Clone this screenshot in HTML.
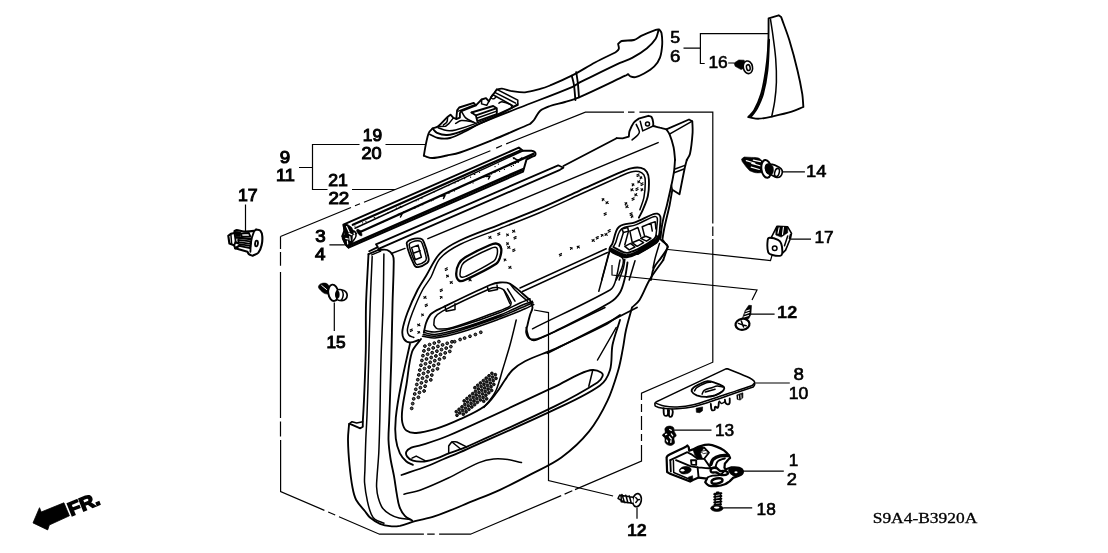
<!DOCTYPE html>
<html><head><meta charset="utf-8"><title>S9A4-B3920A</title>
<style>
html,body{margin:0;padding:0;background:#fff;}
svg{display:block;will-change:transform;opacity:0.999;}
.l{fill:none;stroke:#000;stroke-width:1.85;stroke-linecap:round;stroke-linejoin:round;}
.t{fill:none;stroke:#000;stroke-width:1.5;stroke-linecap:round;stroke-linejoin:round;}
.k{fill:none;stroke:#000;stroke-width:2.3;stroke-linecap:round;stroke-linejoin:round;}
.w{fill:#fff;stroke:#000;stroke-width:1.85;stroke-linejoin:round;}
.b{fill:#000;stroke:#000;stroke-width:0.6;stroke-linejoin:round;}
.n{font-family:"Liberation Sans",sans-serif;font-size:16.6px;fill:#000;stroke:#000;stroke-width:1.0;}
.s{font-family:"Liberation Serif",serif;font-size:15px;fill:#000;stroke:#000;stroke-width:0.3;}
.ld{fill:none;stroke:#000;stroke-width:1.2;stroke-linecap:butt;stroke-linejoin:miter;}
</style></head><body>
<svg width="1108" height="553" viewBox="0 0 1108 553">
<rect width="1108" height="553" fill="#fff"/>
<!--LABELS-->
<g class="n" id="labels">
<text transform="translate(362.8 140.5) scale(1.042 1)">19</text>
<text transform="translate(361.4 158.5) scale(1.092 1)">20</text>
<text transform="translate(279.8 162.6) scale(1.130 1)">9</text>
<text transform="translate(275.9 181.2) scale(1.095 1)">11</text>
<text transform="translate(328.2 185.5) scale(1.062 1)">21</text>
<text transform="translate(328.4 204.3) scale(1.130 1)">22</text>
<text transform="translate(238.0 201.3) scale(1.065 1)">17</text>
<text transform="translate(315.2 241.6) scale(1.130 1)">3</text>
<text transform="translate(314.9 259.5) scale(1.130 1)">4</text>
<text transform="translate(326.4 347.9) scale(1.040 1)">15</text>
<text transform="translate(670.2 42.5) scale(1.072 1)" stroke-width="0.6">5</text>
<text transform="translate(670.0 62.0) scale(1.126 1)" stroke-width="0.6">6</text>
<text transform="translate(708.4 67.9) scale(1.046 1)" stroke-width="0.6">16</text>
<text transform="translate(806.1 177.0) scale(1.108 1)" stroke-width="0.6">14</text>
<text transform="translate(814.4 242.8) scale(1.046 1)" stroke-width="0.6">17</text>
<text transform="translate(777.1 318.4) scale(1.093 1)" font-weight="bold" stroke-width="0.3">12</text>
<text transform="translate(793.5 379.6) scale(1.130 1)" stroke-width="0.6">8</text>
<text transform="translate(788.8 399.4) scale(1.061 1)" stroke-width="0.6">10</text>
<text transform="translate(715.0 435.8) scale(1.043 1)" stroke-width="0.6">13</text>
<text transform="translate(788.8 465.6) scale(1.030 1)" stroke-width="0.6">1</text>
<text transform="translate(786.8 485.4) scale(1.101 1)" stroke-width="0.6">2</text>
<text transform="translate(756.6 514.8) scale(1.043 1)" stroke-width="0.6">18</text>
<text transform="translate(626.9 535.5) scale(1.081 1)" font-weight="bold" stroke-width="0.3">12</text>
</g>
<g class="s"><text x="872.7" y="523.3" textLength="104.6" lengthAdjust="spacingAndGlyphs">S9A4-B3920A</text></g>
<g transform="translate(71 516.2) rotate(-22) scale(1.07 1)"><text x="0" y="0" font-family="Liberation Sans, sans-serif" font-weight="bold" font-size="19" stroke="#000" stroke-width="1.4" fill="#000">FR.</text></g>
<path d="M33 522.9L39.5 507.7L41.2 512L63.9 502.8L69.4 515.8L49.3 525L47.7 529.9Z" fill="#000" stroke="#000" stroke-width="0.8" stroke-linejoin="round"/>
<!--LEADERS-->
<g class="ld" id="leaders">
<path d="M299 167.5H312M359.5 144.5H312.5V189.5H327.5M385.5 144.5H426M352 189.5H395M245.5 204.5V231M329.4 244.8H344.9M334.3 302.6V331M683.5 48.2H700.4M768.6 33.6H700.4V63.5H704.7M728.2 63H734M782.6 171.8H804.9M791 239.1H811M751 314.2H774.6M668 249.5L770.5 260.5L773.1 251.8M612 265V275L757 290L752 300M755.4 383H789.8M673.5 430.2H711.5M742.2 471.2H783.8M723.2 507.8H752.2M637 507.4V518.7M534 310L548.5 312.6V480.6L613.1 496"/>
</g>

<!--PARTS-->
<!-- armrest 19/20 -->
<path class="w" d="M423.8 155.9C424.5 151.8 425.1 147.7 426 143.6C426.8 140 427.3 136.2 428.8 132.8C429.5 131.1 431.3 129.9 432.5 128.5C434.4 127.8 436.6 127.5 438.2 126.3C441.7 123.6 444.4 119.9 447.6 116.9C448.5 116.1 449.5 115.4 450.5 114.7L453.4 117.9L456.3 118.8L457.1 110.4L459.2 107.5L473.7 102.9L475.9 105.3L481.6 99.5L486 98.1L488.9 101.4L491 97.4L493.2 94.5L496.8 89.4C498.5 89.2 500.2 88.5 501.9 88.7C504.9 89 507.7 90.3 510.6 90.8C515.4 91.5 520.2 92.6 525 92.3C530.5 91.9 535.7 90.1 541 88.7C544.1 87.9 547.1 86.7 550 85.5C557.3 82.4 564.7 79.3 571.8 75.7C579.7 71.7 587.2 66.7 595 62.5C601.6 59 608.5 55.8 615.2 52.5C616.4 51.3 618.3 50.5 618.8 48.9C619.3 47.3 618.3 45.6 618.1 43.9C619.3 42.9 620.2 41.4 621.7 41C625.7 40 630 41 634 40C636.7 39.3 638.7 37.1 641.2 35.9C645.9 33.7 650.8 31.6 655.7 29.8C656.8 29.4 658.1 29.5 659.3 29.4C660 30.6 661.2 31.6 661.5 33C662.2 36.8 662.4 40.7 662.2 44.6C661.9 49 661.5 53.5 660 57.6C658.8 60.9 656.8 63.8 654.3 66.3C651.4 69.2 647.7 71.4 644.1 73.5C641.4 75 638.5 76.5 635.5 77.1C633.8 77.5 632 77 630.4 76.4C629.4 76 628.9 74.9 628.2 74.2C627.2 74.7 626.3 75.2 625.3 75.7C609.9 83 594.6 90.6 579 97.4C574.5 99.4 569.7 100.6 565 102C560 103.5 554.9 104.2 550 106C546.5 107.3 542.8 108.5 540 111C537.3 113.4 536.2 117.1 534 120C532.9 121.5 531.3 122.7 530 124C517.5 129.3 505.1 134.9 492.5 140C481.7 144.4 471 148.8 460 152.5C455.8 153.9 451.4 154.6 447 155.5C442.2 156.5 437.4 157.9 432.5 158C429.5 158.1 426.7 156.6 423.8 155.9Z"/>
<path class="l" d="M432.5 128.5C434 129.9 435.1 132 437 132.8C440.1 134.2 443.6 135.2 447 135C451.9 134.7 456.8 133 461.4 131.3C471.1 127.7 480.6 123.4 490 119C499.4 114.6 508.5 109.7 517.8 105"/>
<path class="l" d="M430 134.5C432.7 135.7 435.1 137.5 438 138C441.9 138.7 446.1 138.9 450 138C455.3 136.7 460.1 133.9 465 131.5C470.1 129 474.8 125.8 480 123.5C493.2 117.8 506.6 112.8 520 107.5C537.5 100.6 555.2 94.1 572.6 86.8C575.2 85.7 577.4 83.9 579.8 82.4C593.2 75.9 606.5 69.2 620 62.9C624.1 61 628.6 59.8 632.6 57.6C637.6 54.9 642.6 51.8 647 48.2C650.3 45.5 653.4 42.4 655.7 38.8C657.3 36.2 657.6 33 658.6 30.1"/>
<path class="l" d="M571.8 75.7C572.5 78.8 573.5 81.9 574 85.1C574.7 90 574.9 95 575.4 100"/>
<path class="l" d="M576.2 72.1C576.8 75.9 577.5 79.7 577.9 83.6C578.4 88.2 578.6 92.8 579 97.4"/>
<path class="t" d="M438.2 127.7C441.1 128.7 443.9 130.2 446.9 130.6C449.8 131 452.8 130.6 455.6 129.9C462.5 128.2 469.3 126 475.9 123.4C487.6 118.8 499.1 113.5 510.6 108.2C513.1 107 515.4 105.3 517.8 103.9"/>
<path class="t" d="M496.8 89.4L517.8 100.2L517.8 103.9"/>
<path class="t" d="M494.7 92.3L515.6 103.1"/>
<path class="t" d="M492.5 94.5L512.7 105.7"/>
<path class="t" d="M493.2 94.5C492.5 95.4 490.8 96.2 491 97.4C491.2 98.4 492.9 99 493.9 98.8C494.9 98.7 495.4 97.4 496.1 96.6"/>
<path class="l" d="M471.5 112.5L493.2 106L496.8 108.2L496.8 114L477.3 121.2L475.9 115.4L496.8 108.2"/>
<path class="l" d="M475.9 115.4L471.5 112.5"/>
<path class="t" d="M476.6 118.3L496.8 111.1"/>
<path class="l" d="M475.9 105.3L461.4 111.1L459.9 113.3L459.9 117.6L456.3 119.1"/>
<path class="t" d="M458.5 111.1L473.7 105.3"/>
<path class="t" d="M453.4 117.9L449.1 123.4L445.5 126.3L439.7 126.6"/>
<path class="t" d="M447.6 116.9C447.4 118.6 447.7 120.4 446.9 121.9C446.2 123.4 444.5 124.1 443.3 125.1"/>
<path class="t" d="M488.9 101.4L486.7 105.3L481.6 103.9L481.6 99.5"/>
<path class="t" d="M499 103.1C500 102.7 500.8 101.6 501.9 101.7C504.9 102.1 507.9 103.1 510.6 104.6C511.5 105.1 511.5 106.5 512 107.5"/>
<path class="t" d="M455.6 123.4C457.5 122.4 459.2 120.7 461.4 120.5C465.3 120.2 469.1 121.2 473 121.9C474 122.2 474.9 122.9 475.9 123.4"/>
<path class="t" d="M461.4 111.1C462.8 113.4 463.8 116.1 465.7 117.9C467.7 119.8 470.6 120.6 473 121.9"/>
<!-- phantom box -->
<path class="ld" d="M280.5 236.5L351 207.5M355 205.8L360 203.8M364 202.2L490.4 150.7M496.2 148.1L502 145.5M506.2 143.9L585.4 112.1H624M628 112.1H634.5M639.4 112.1H712.8V223.5M712.8 226.5V236M712.8 239V362.2L641.5 393.2V400M641.5 404V412M641.5 416V430M641.5 434V441M641.5 445V461L575 489.6M572.3 490.8L564.6 494.1M561.2 495.6L470.5 534.2H439.1M434.7 534.2H427.2M423.9 534.2H379.5L339 516.7M335.2 515.0L328.2 512.0M324.4 510.4L280.6 491.5V440M280.5 436.5V421.5M280.5 418V272M280.5 265.8V252M280.5 249V236.5"/>
<!-- weatherstrip 21/22 -->
<path class="w" d="M343.4 224.7L518.8 147.6L523 150.7L531.4 150.7C532.6 151.2 534.2 151.2 535 152.3C535.6 153.2 535.6 154.6 535 155.5C534.5 156.3 533.3 156.2 532.4 156.5L526.5 159.5L523 171.7L348.6 247.7L345.5 244.1L342.3 236.2L344.5 230.4L343.4 224.7Z" style="stroke-width:2"/>
<path class="k" d="M352.8 224.7L519.8 150.7M361.2 231.5L533.5 153.9"/>
<path class="t" d="M355 228.3L523 150.7M350.7 244.1L523 168.6M349.5 245.8L522.5 170.3"/>
<path class="t" d="M344.5 230.4C346.3 231.3 348 232.9 350 233C351.5 233.1 352.7 230.3 354 231C355.6 231.8 356.2 234.2 356 236C355.8 237.9 354.1 239.4 353 241C352.3 242.1 351.5 243.1 350.7 244.1"/>
<path class="t" d="M342.3 236.2C343.9 236.8 345.8 236.8 347 238C348.3 239.3 348.3 241.3 349 243"/>
<path class="t" d="M514 158C515.3 158.7 516.5 160 518 160C519.5 160 520.7 158.7 522 158"/>
<!-- stipple -->
<path d="M388.6 212.6h0.1M413.8 208.5h0.1M454.9 182.9h0.1M454.4 191.0h0.1M392.3 211.0h0.1M383.2 221.7h0.1M443.2 195.8h0.1M416.0 200.8h0.1M387.6 213.0h0.1M499.5 171.5h0.1M474.8 174.3h0.1M374.7 217.5h0.1M399.1 207.0h0.1M491.5 173.9h0.1M431.5 200.8h0.1M473.0 182.9h0.1M418.1 206.6h0.1M513.5 158.6h0.1M498.4 164.1h0.1M356.4 233.3h0.1M387.5 219.8h0.1M483.8 177.2h0.1M422.6 204.7h0.1M448.9 193.3h0.1M450.3 191.6h0.1M464.6 178.7h0.1M495.0 166.6h0.1M470.0 183.1h0.1M513.2 157.7h0.1M470.5 177.2h0.1M458.7 188.0h0.1M396.3 208.2h0.1M433.1 200.1h0.1M362.5 222.8h0.1M418.3 199.8h0.1M353.7 234.5h0.1M479.5 172.3h0.1M354.9 226.1h0.1M414.8 207.0h0.1M444.5 194.1h0.1M434.2 191.8h0.1M400.5 206.4h0.1M365.9 221.3h0.1M513.4 165.4h0.1M400.0 213.4h0.1M374.1 217.8h0.1M518.3 162.2h0.1M401.7 207.0h0.1M504.4 169.3h0.1M415.0 208.0h0.1M458.0 181.5h0.1M456.5 189.0h0.1M421.8 198.2h0.1M511.3 166.4h0.1M518.0 162.4h0.1M441.6 188.6h0.1M485.4 176.5h0.1M351.1 228.8h0.1M360.1 230.6h0.1M430.0 200.4h0.1M454.5 189.8h0.1M474.2 174.5h0.1M448.7 185.6h0.1M515.5 163.5h0.1M457.8 188.4h0.1M451.7 191.0h0.1M378.2 217.1h0.1M403.6 211.8h0.1M494.9 172.3h0.1M401.9 213.6h0.1" stroke="#000" stroke-width="1.2" stroke-linecap="round" fill="none"/>
<path class="t" d="M398 214.5L402 214L400.5 217M441 196L445 195.5L443.5 198.5M486 176.5L490 176L488.5 179"/>
<!-- end face -->
<path class="b" d="M343.3 224.8L346.6 223.7L351.6 227.3L353.8 231.6L352.4 236.7L352 243.9L348.7 248.3L345.8 246.1L342.2 238.9L342.6 235.6L344.8 234.5L343.7 229.5Z"/>
<path class="t" d="M346.6 226.6L349.1 232M349.1 233.4L351.8 234.7M345.8 238.3L348.2 239M347.4 241.2L347.7 243.9M349.8 236.7L350.2 240.3" style="stroke:#fff;stroke-width:1.2"/>
<path class="b" d="M356.7 229.8C357 228.8 359.2 229.7 359.9 230.5C361.2 231.9 362.4 233.9 361.9 235.6C361.6 236.6 359.6 235.3 358.9 234.5C357.7 233.2 356.2 231.5 356.7 229.8Z"/>
<!-- door lining panel -->
<path class="k" d="M369.2 251.2L377.8 247.1L376 244.3L558.2 165.3L563.4 167.7L560 169.8L378.5 248.8" style="stroke-width:1.8"/>
<path class="l" d="M563.4 166L616.6 138.2"/>
<path class="l" d="M616.6 138.2L622.6 138.4L628.8 136.6C629.1 134.7 629 132.7 629.6 130.9C630.7 128.1 631.9 125.2 633.7 122.8C635 121.1 637 120.1 638.6 118.7L648.4 115.8C649.4 116.2 650.9 116.1 651.6 117.1C652.7 118.7 652.9 120.8 653.2 122.8C653.4 123.9 653.2 125 653.2 126C655.4 126.6 657.6 127.1 659.8 127.7C661.9 128.2 664.1 128.8 666.3 129.3L689 119.5L692.3 121.2C692.4 125 692.9 128.8 692.6 132.6C692.1 139.6 691.5 146.8 690 153.7C689.5 156 687.8 157.9 686.7 160"/>
<path class="t" d="M636.2 124.4C637.2 126.9 639 129.1 639.4 131.7C639.6 132.9 638.6 134.1 637.8 135C636.1 136.9 634 138.2 632.1 139.9"/>
<path class="t" d="M640.2 121.2L642.7 130.9L653.2 126"/>
<circle class="t" cx="647.5" cy="124.1" r="2"/>
<path class="t" d="M669.5 134.2L692.3 121.2"/>
<path class="l" d="M666.3 129.3C667.3 130.9 668.8 132.4 669.5 134.2C671.2 138.4 672.6 142.8 673.6 147.2C674.5 151.5 674.6 155.9 675.1 160.2"/>
<path class="l" d="M675 160C674.7 163.6 674.6 167.3 674.1 170.8C673.4 175.7 672.4 180.5 671.4 185.3C670 192 668.4 198.6 666.9 205.2C665.4 211.2 663.5 217.2 662.4 223.3C661.4 228 661.1 232.9 660.5 237.7"/>
<path class="l" d="M686.8 160C686.1 162.4 685.5 164.8 684.9 167.2C683 176.2 681.3 185.3 679.5 194.3L672.3 189.8C671.4 194.9 670.6 200.1 669.6 205.2C667.9 213.1 665.8 220.8 664.2 228.7C663.4 232.3 663 235.9 662.4 239.5L667.8 246.8L663.3 259.9"/>
<path class="t" d="M672.3 189.8L671.4 185.3"/>
<path class="t" d="M675 169L684.9 165.4M674.1 172.7L684 169"/>
<path class="l" d="M663.3 260C658.7 266.7 653.6 273 649.5 280C645.7 286.4 643.5 293.7 639.5 300C637.6 303 634.5 305 632 307.5C630 315 627.7 322.4 626 330C624.6 336.1 624.1 342.3 622.9 348.4C621.5 355.6 620.4 362.9 618.3 370C615.2 380.4 612.2 390.9 607.5 400.7C602.4 411.5 596.6 422.1 589.1 431.4C581.1 441.3 571.6 450 561.4 457.5C552 464.4 541 469 530.7 474.4C520.6 479.7 510.4 485 500 489.8C491 494 481.7 497.5 472.5 501.2C460 506.3 447.7 511.8 435 516.2C428.5 518.5 421.6 519.4 415 521.2C410 522.6 405.1 524.7 400 525.8C396.7 526.4 393.3 526.6 390 526.2C386.6 525.9 383.1 525.1 380 523.8C376.4 522.2 373 520 370 517.5C368 515.8 366.6 513.3 365 511.2C362.1 507.5 358.5 504.2 356.2 500C354.2 496.2 353.3 491.8 352.5 487.5C351.1 480.1 350.2 472.5 349.5 465C348.7 456.7 348.1 448.3 348 440C347.9 434.6 348.7 429.3 349.1 423.9L350.5 424.2L360.3 428.3L362.8 426.8L362.8 421.7C363.2 414.5 363.7 407.2 364 400C364.7 383.3 365.4 366.7 365.8 350C366.1 335 365.6 320 366 305C366.5 288 367.7 271.1 368.5 254.1"/>
<path class="t" d="M349.1 423.9L352 421.7L356.7 423L362.8 421.7"/>
<path class="t" d="M392 253.2L405 248.4M427.9 238.6L658.1 142.6"/>
<path class="l" d="M368.5 254.1L378.2 250"/>
<path class="t" d="M371.7 254.9L380.7 251.1"/>
<path class="l" d="M406.7 243.5C406.5 241.4 409.6 240.1 411.6 239.4C414.4 238.4 417.6 238 420.6 238.6C422.1 238.9 423.3 240.4 423.8 241.9C426 247.4 427.8 253.1 428.7 258.9C428.9 260.4 428.2 262.1 427.1 263C424.5 265 421.4 266.7 418.1 267.1C416.6 267.3 414.7 266.1 414.1 264.6C410.8 257.9 407.5 250.9 406.7 243.5Z"/>
<path class="t" d="M409.2 245.1C409 243.6 411 242.4 412.4 241.9C414.7 241 417.3 240.6 419.8 241C420.9 241.2 421.8 242.4 422.2 243.5C424 248.2 425.5 253.1 426.3 258.1C426.4 259.3 425.9 260.7 425 261.4C423 263 420.6 264.3 418.1 264.6C417 264.8 415.7 263.8 415.2 262.7C412.6 257.1 410 251.3 409.2 245.1Z"/>
<path class="t" d="M411.6 247.6L418.1 245.1L421.4 257.3L415.2 259.8Z"/>
<path class="t" d="M413.2 253.2L420.1 250.8"/>
<path class="l" d="M418.8 340C415.8 340.8 413 342.8 410 342.5C407.6 342.3 405 340.8 403.8 338.8C402.2 336.2 402.1 332.9 402.5 330C403.4 324 405.4 318.2 407.5 312.5C410.4 304.8 413.8 297.3 417.5 290C420 285.1 423.1 280.7 426 276C430.6 268.5 433.9 259.8 440 253.4C445.5 247.7 452.8 243.9 459.9 240.5C472.8 234.3 486.4 229.9 499.7 224.6C513 219.3 526.4 214.3 539.5 208.7C552.9 203 566 196.8 579.2 190.8C592.5 184.8 605.7 178.7 619 172.9C622.9 171.2 626.8 169.3 631 168.3C634.2 167.6 637.7 167.2 640.9 167.9C643.2 168.4 645.6 169.9 646.9 171.9C648.4 174.2 648.8 177.1 648.9 179.8C649.1 185.1 649 190.6 647.9 195.8C646.9 200.6 644.8 205.1 642.9 209.7C641.8 212.4 640.2 215 638.9 217.6"/>
<path class="t" d="M413.8 337.5C412.1 336.7 409.8 336.5 408.8 335C407.5 333.3 407.2 330.8 407.5 328.8C408.4 323.2 410.5 317.8 412.5 312.5C415.5 304.8 418.7 297.3 422.5 290C424.9 285.4 428.5 281.5 431 277C434.3 271 435.4 263.5 440 258.4C445.4 252.4 452.7 248.1 459.9 244.5C472.7 238.1 486.4 233.9 499.7 228.6C513 223.3 526.4 218.3 539.5 212.7C552.9 207 566 200.8 579.2 194.8C592.5 188.8 605.7 182.8 619 176.9C623 175.1 626.8 173 631 171.9C633.5 171.2 636.3 170.9 638.9 171.5C640.9 172 642.8 173.2 643.9 174.9C645.1 176.9 645.3 179.5 645.3 181.8C645.3 187.1 644.9 192.5 643.9 197.7C643.1 201.8 641.2 205.7 639.9 209.7"/>
<path class="k" d="M456.2 273.8C456.2 270.3 457.1 266.8 458.8 263.8C460.1 261.2 462.5 259 465 257.5C473 252.7 481.4 248.6 490 245C492.3 244 495.1 242.9 497.5 243.8C499.5 244.4 500.9 246.7 501.2 248.8C501.8 251.6 500.9 254.7 500 257.5C499.2 259.8 498.3 262.4 496.2 263.8C486.4 270.1 475.7 275.2 465 280C463.1 280.9 460.5 281.7 458.8 280.5C456.8 279.1 456.2 276.1 456.2 273.8Z"/>
<path class="t" d="M460 273.8C460.2 270.8 460.6 267.6 462 265C463.2 262.8 465.4 261.2 467.5 260C474.8 255.8 482.3 252.1 490 248.8C491.9 247.9 494.2 246.8 496.2 247.5C497.5 247.9 497.5 249.9 497.5 251.2C497.5 253.4 497 255.5 496.2 257.5C495.7 258.9 495 260.5 493.8 261.2C484.9 266.8 475.6 271.7 466.2 276.2C464.7 277 462.8 277.6 461.2 277C460.2 276.6 459.9 274.9 460 273.8Z"/>
<path class="l" d="M423.8 332.5C424.6 329.2 425 325.7 426.2 322.5C427.5 319.4 428.8 316 431.2 313.8C434.4 310.8 438.6 309.4 442.5 307.5C458.2 299.8 473.9 292 490 285C493.2 283.6 496.6 282.7 500 282.5C503.4 282.3 507.1 282.1 510 283.8C517.4 288.1 523.3 294.6 530 300C530.8 302.5 532.5 304.9 532.5 307.5C532.5 310.1 530.7 312.5 530 315C529.1 318.3 528.2 321.6 527.5 325C527 327.5 525.8 330 526.2 332.5C526.7 334.9 527.9 337.6 530 338.8C532.2 340 535.1 339.4 537.5 338.8C542.7 337.3 547.7 334.9 552.5 332.5C571.8 322.8 591.4 313.5 610 302.5C614.1 300.1 617.6 296.5 620 292.5C622.7 288 623.7 282.6 625 277.5C626.2 272.6 626.7 267.5 627.5 262.5"/>
<path class="t" d="M433.8 325C434.2 322.5 433.6 319.6 435 317.5C436.7 314.8 439.6 312.8 442.5 311.2C458 303.1 474 295.8 490 288.8C491.9 287.9 494.1 287.3 496.2 287.5C498.9 287.7 501.9 288.1 503.8 290C507.2 293.4 508.8 298.3 511.2 302.5C510.8 303.8 511.1 305.6 510 306.2C505.4 309.1 500.1 310.6 495 312.5C480.9 317.7 467 323.4 452.5 327.5C447.7 328.9 442.5 329.4 437.5 328.8C435.7 328.5 435 326.2 433.8 325Z"/>
<path class="t" d="M445 306.2L446.2 311.2L455 309.5L455 303.8"/>
<path class="t" d="M487.5 287.5L488.8 291.2L497.5 289.5L497 285"/>
<path class="t" d="M503.8 290L510 303.8M507.5 288.8L515 301.2"/>
<path class="t" d="M423.8 332.5C427.5 333.2 431.2 334.9 435 334.5C443.5 333.6 451.8 331.2 460 328.8C473.5 324.7 486.8 320 500 315C507.7 312.1 514.9 308.2 522.5 305C525.8 303.6 529.2 302.5 532.5 301.2M422.5 336.2C426.7 336.8 430.8 338.4 435 338C443.5 337.2 451.8 334.9 460 332.5C473.5 328.5 486.8 323.6 500 318.8C508.4 315.7 516.7 312.2 525 308.8C528 307.5 530.8 305.9 533.8 304.5M424.5 330.5C428 331 431.5 332.4 435 332C443.5 331 451.8 328.7 460 326.2C473.5 322.2 486.9 317.6 500 312.5C506.9 309.8 513.3 306.1 520 303C523.3 301.5 526.7 300.2 530 298.8M423.2 334.5C427.2 335.1 431.1 336.7 435 336.2C443.5 335.3 451.8 333 460 330.5C473.5 326.4 486.8 321.7 500 316.8C508 313.8 515.8 310.1 523.8 306.8C526.8 305.4 529.9 304.1 533 302.8"/>
<path class="t" d="M510 283.8C511.7 285.8 513.1 288.1 515 290C519 294 523.3 297.5 527.5 301.2"/>
<path class="t" d="M520 288L606.2 248.8M522.5 291.5L607.5 252.5"/>
<path class="t" d="M532.5 328.8C558.3 315.8 584.8 304.1 610 290C612.6 288.5 614 285.4 615 282.5C617.4 275.2 618.3 267.5 620 260"/>
<path class="t" d="M598.8 291.2L610 250"/>
<path class="l" d="M547.5 353.2L637 307.5"/>
<path class="l" d="M609.6 249.9C608.3 248 611.8 245.6 612.5 243.4C613.9 239.4 614.6 235.1 616.2 231.1C616.8 229.5 617.8 227.9 619.1 226.8C620.3 225.7 621.8 225 623.4 224.6C627.2 223.6 631.3 223.7 635 222.4C641 220.3 646.4 216.8 652.3 214.5C653.9 213.8 655.7 213.3 657.4 213.7C658.7 214.1 659.9 215.3 660.3 216.6C660.9 218.7 660.4 221 660.3 223.1C659.9 228 659.7 232.8 658.8 237.6C658.5 239.2 657.9 241 656.7 241.9C650.8 246.4 644.4 250.1 637.9 253.5C634.7 255.2 631.3 256.5 627.7 257.1C625.8 257.5 623.7 257.1 621.9 256.4C617.6 254.7 612.4 253.7 609.6 249.9Z"/>
<path class="t" d="M613.6 246.6C614.3 245 615.3 243.6 615.9 241.9C617 239 617.5 235.9 618.8 233C619.3 231.6 620.2 230.4 621.2 229.4C622.2 228.4 623.5 227.6 624.8 227.2C628.4 226.1 632.2 226.2 635.7 224.9C641.4 222.8 646.6 219.4 652.3 217.1C653.4 216.6 654.8 216.2 655.9 216.6C656.8 216.9 657.3 217.9 657.4 218.8C657.6 221.2 657.1 223.6 656.9 226C656.7 229.4 656.3 232.8 655.9 236.2"/>
<path class="t" d="M621.9 228.9L627.7 227.5L628.5 231.1L623.4 232.5Z"/>
<path class="t" d="M623.4 232.5L619.1 246.3M628.5 231.1L624.8 244.8M629.9 231.1L637.9 227.5L640.7 236.2M629.9 231.1L632.1 241.9M642.2 226.8L650.9 223.1L652.3 231.1M642.2 226.8L644.4 235.4M650.9 223.1L655.2 221.7L655.9 228.9"/>
<path class="l" d="M611.1 248.5C615 250.4 618.7 252.7 622.7 254.2C624.3 254.9 626.1 255.3 627.7 255C631.2 254.3 634.7 253 637.9 251.3C643.9 248.2 649.8 244.6 655.2 240.5C656.6 239.5 657.1 237.6 658.1 236.2M613.3 247C616.6 248.7 619.9 250.7 623.4 252.1C624.8 252.6 626.3 253.1 627.7 252.8C631.2 252.1 634.7 250.8 637.9 249.2C643.4 246.3 648.8 243.1 653.8 239.3C655 238.4 655.5 236.7 656.4 235.4M610.4 249.5C614.3 251.4 618.1 253.8 622.2 255.4C624 256.1 625.9 256.5 627.7 256.1C631.3 255.5 634.7 254.2 637.9 252.5C644.1 249.2 650.3 245.6 655.9 241.4C657.3 240.4 657.7 238.5 658.5 237"/>
<path class="t" d="M612.1 250.9L622.2 257.6"/>
<path class="t" d="M624.8 246.3L630.6 243.4L635 247L629.2 249.9Z"/>
<path class="t" d="M632.1 242.7L639.3 239.8L643.6 242.7L637.1 246.3Z"/>
<path class="t" d="M640.7 238.3L645.8 236.2L650.9 238.3L646.5 241.2Z"/>
<path class="k" d="M637.9 253.8C644.1 249.9 650.7 246.6 656.7 242.2C658 241.2 658.4 239.3 659.3 237.9"/>
<path class="l" d="M660.3 231.8C659.9 233.7 658.7 235.7 659.3 237.6C659.8 239.5 661.9 240.5 663.2 241.9C664.6 243.1 666.7 243.9 667.5 245.6C668.1 246.7 667.4 248.1 666.8 249.2C665.2 252.2 663 255 661 257.9C658.6 261.3 655.5 264.2 653.8 268C652.1 271.7 651.8 276 650.9 280"/>
<path class="t" d="M659.5 243.4C658.1 248.2 656.5 253 655.2 257.9C654.3 261.2 653.8 264.6 653 268"/>
<path class="t" d="M609.6 249.9L601.7 280"/>
<path class="t" d="M621.9 256.4C622.4 257.9 623.4 259.2 623.4 260.7C623.4 263.2 622.8 265.7 621.9 268C620.4 272.1 618.1 276 616.2 280"/>
<path class="t" d="M624.8 259.3C624.4 262.2 624.2 265.2 623.4 268C622.2 272.1 620.5 276 619.1 280"/>
<path class="t" d="M635 260.7L629.2 280"/>
<path class="t" d="M516.2 320C514.2 328.3 512.3 336.7 510 345C507.7 353.4 505 361.7 502.5 370C500.5 376.7 498.9 383.6 496.2 390C494.7 393.6 492.3 396.8 490 400C488.1 402.6 485.8 405 483.8 407.5"/>
<path class="t" d="M526.2 327.5C527.5 331.2 527.3 335.9 530 338.8C531.7 340.6 535.2 340.5 537.5 339.5C560.5 329.9 582.5 318.2 605 307.5"/>
<path class="t" d="M616.2 327.5L597.5 360"/>
<path class="t" d="M588.8 386.2L592.5 371.2"/>
<path class="l" d="M410 343.8C407 357.5 403.7 371.2 401 385C398.9 395.8 396.9 406.6 395.8 417.6C395.1 424.6 395 431.7 395.8 438.7C396.4 443.8 397.8 448.8 399.9 453.4C401.4 456.5 403.8 459.2 406.4 461.5C408.2 463.1 410.7 463.7 412.9 464.8"/>
<path class="l" d="M421 339C418 343.3 413.6 347 412 352C408.6 362.6 408.3 374 406.4 385C405 393.1 403.2 401.2 402.3 409.4C401.8 413.7 401.5 418.1 402.3 422.4C402.9 425.4 404 428.7 406.4 430.6C409.1 432.6 412.8 433.2 416.2 433C422.8 432.6 429.4 430.9 435.7 428.9C444 426.3 452.2 422.9 460.1 419.2C468.5 415.3 477.1 411.7 484.5 406.2C489.6 402.5 493.1 397 497 392C500 388.2 502.2 383.9 505 380C507.4 376.6 509.5 372.8 512.5 370C516.2 366.5 520.5 363.5 525 361.2C534.7 356.4 545.1 353.2 555 348.8C571.8 341.1 588.6 333.5 605 325C610.3 322.2 615 318.3 620 315"/>
<path class="l" d="M406.4 451.7C407.3 449.8 409.4 448.6 411.3 447.7C414.4 446.3 417.8 446.2 421 445.2C430.3 442.2 439.7 439.4 448.7 435.5C484.4 419.9 519.7 403.2 555 386.6C563.5 382.6 571.4 377.5 580 373.8C584 372 588.2 370.3 592.5 370C595.5 369.8 598.7 370.9 601.2 372.5C602.4 373.2 603 375 602.5 376.2C601.6 378.7 599.8 381.1 597.5 382.5C583.8 391.2 569.6 399 555 406.2C525.9 420.5 496.2 433.6 466.6 446.8C460.8 449.4 454.6 451.1 448.7 453.4C444.9 454.9 441.2 456.9 437.3 458.2C433.1 459.6 428.7 461 424.3 461.5C420.5 461.9 416.6 461.7 412.9 460.7C410.7 460.1 408.6 458.5 407.2 456.6C406.2 455.3 405.7 453.2 406.4 451.7Z"/>
<path class="l" d="M401.5 475C410.2 472 418.9 469.2 427.5 466C433 463.9 438.4 461.3 443.8 459C451.4 455.8 459.1 452.7 466.6 449.3C496.1 436.1 525.8 423.3 555 409.4C570.3 402.1 586.2 395.4 600 385.5C605 381.9 608.2 375.9 610 370C612.5 362 610.9 353.2 612.5 345C614.2 336.5 617.5 328.3 620 320"/>
<path class="t" d="M448.7 453.4L448.7 446C449.8 444.7 450.5 442.8 452 442C453.4 441.3 455.2 442 456.8 442L466.6 446.8"/>
<path class="t" d="M452 442L460 448.5"/>
<path class="t" d="M412 458.2L416.2 456.1L425 460.7"/>
<path class="t" d="M404 494.2C409.7 492.7 415.6 491.7 421.2 489.7C430.4 486.3 439.4 482.2 448.3 478C458.7 473.1 468.4 467 479 462.6C483.6 460.7 488.5 459.5 493.5 459C498.3 458.5 503.2 458.9 508 459.5C512.6 460.1 517 461.6 521.5 462.6"/>
<path class="t" d="M372.2 256.5C371.5 272.7 370.7 288.8 370.2 305C369.6 323.3 369.2 341.7 368.7 360C368.2 378.3 367.7 396.7 367 415C366.7 423.3 366.1 431.7 365.8 440C365.4 450 365.2 460 364.9 470C364.8 474.3 364.2 478.7 364.6 483C365.1 489.3 366.2 495.5 367.5 501.6C368.4 505.9 369.6 510.2 371.3 514.3C372.1 516.2 373.3 518.2 375 519.4C377.7 521.3 381 521.9 384 523.2"/>
<path class="t" d="M383.9 254C383.6 271 383.6 288 383.1 305C382.6 323.3 381.5 341.7 381 360C380.4 380 380.3 400 379.8 420C379.5 430.8 379.3 441.7 378.8 452.5C378.4 460.8 377.5 469.2 377 477.5C376.8 480.7 376.4 483.8 376.6 487C376.8 490.5 377.2 494.1 378.2 497.5C379.2 501.1 380.3 504.9 382.5 508C384.4 510.7 387.2 512.6 390 514.3C392.8 516 395.9 517.2 399 518C402.6 518.9 406.3 519 410 519.5"/>
<path class="l" d="M378.2 250C381.2 250 384.4 248.9 387.2 250C389.7 251 391.8 253.3 392.9 255.7C394.1 258.2 393.7 261.1 393.7 263.8C393.6 277.5 392.8 291.3 392.5 305C392 323.3 391.8 341.7 391.3 360C390.7 380 389.9 400 389.2 420C389 426.7 388.3 433.3 388.5 440C388.7 446 389.5 452 390.4 458C391.3 464.1 392.9 470.1 394 476.2C395.1 482.2 395.7 488.2 396.8 494.2C397.6 498.5 398 502.8 399.5 506.9C400.7 510.2 402.5 513.3 404.9 515.9C406.8 518 409.7 519 412.1 520.5"/>
<!-- speaker dots -->
<path d="M411.7 408.4m-1.4 0a1.4 1.4 0 1 0 2.8 0a1.4 1.4 0 1 0 -2.8 0M412.7 403.6m-1.4 0a1.4 1.4 0 1 0 2.8 0a1.4 1.4 0 1 0 -2.8 0M413.7 398.8m-1.4 0a1.4 1.4 0 1 0 2.8 0a1.4 1.4 0 1 0 -2.8 0M414.7 394.0m-1.4 0a1.4 1.4 0 1 0 2.8 0a1.4 1.4 0 1 0 -2.8 0M418.4 397.3m-1.4 0a1.4 1.4 0 1 0 2.8 0a1.4 1.4 0 1 0 -2.8 0M415.8 389.3m-1.4 0a1.4 1.4 0 1 0 2.8 0a1.4 1.4 0 1 0 -2.8 0M419.4 392.5m-1.4 0a1.4 1.4 0 1 0 2.8 0a1.4 1.4 0 1 0 -2.8 0M416.8 384.5m-1.4 0a1.4 1.4 0 1 0 2.8 0a1.4 1.4 0 1 0 -2.8 0M420.4 387.7m-1.4 0a1.4 1.4 0 1 0 2.8 0a1.4 1.4 0 1 0 -2.8 0M424.1 391.0m-1.4 0a1.4 1.4 0 1 0 2.8 0a1.4 1.4 0 1 0 -2.8 0M417.8 379.7m-1.4 0a1.4 1.4 0 1 0 2.8 0a1.4 1.4 0 1 0 -2.8 0M421.4 382.9m-1.4 0a1.4 1.4 0 1 0 2.8 0a1.4 1.4 0 1 0 -2.8 0M425.1 386.2m-1.4 0a1.4 1.4 0 1 0 2.8 0a1.4 1.4 0 1 0 -2.8 0M418.8 374.9m-1.4 0a1.4 1.4 0 1 0 2.8 0a1.4 1.4 0 1 0 -2.8 0M422.5 378.2m-1.4 0a1.4 1.4 0 1 0 2.8 0a1.4 1.4 0 1 0 -2.8 0M426.1 381.4m-1.4 0a1.4 1.4 0 1 0 2.8 0a1.4 1.4 0 1 0 -2.8 0M419.8 370.1m-1.4 0a1.4 1.4 0 1 0 2.8 0a1.4 1.4 0 1 0 -2.8 0M423.5 373.4m-1.4 0a1.4 1.4 0 1 0 2.8 0a1.4 1.4 0 1 0 -2.8 0M427.1 376.6m-1.4 0a1.4 1.4 0 1 0 2.8 0a1.4 1.4 0 1 0 -2.8 0M430.8 379.9m-1.4 0a1.4 1.4 0 1 0 2.8 0a1.4 1.4 0 1 0 -2.8 0M420.9 365.3m-1.4 0a1.4 1.4 0 1 0 2.8 0a1.4 1.4 0 1 0 -2.8 0M424.5 368.6m-1.4 0a1.4 1.4 0 1 0 2.8 0a1.4 1.4 0 1 0 -2.8 0M428.1 371.8m-1.4 0a1.4 1.4 0 1 0 2.8 0a1.4 1.4 0 1 0 -2.8 0M431.8 375.1m-1.4 0a1.4 1.4 0 1 0 2.8 0a1.4 1.4 0 1 0 -2.8 0M421.9 360.5m-1.4 0a1.4 1.4 0 1 0 2.8 0a1.4 1.4 0 1 0 -2.8 0M425.5 363.8m-1.4 0a1.4 1.4 0 1 0 2.8 0a1.4 1.4 0 1 0 -2.8 0M429.2 367.1m-1.4 0a1.4 1.4 0 1 0 2.8 0a1.4 1.4 0 1 0 -2.8 0M432.8 370.3m-1.4 0a1.4 1.4 0 1 0 2.8 0a1.4 1.4 0 1 0 -2.8 0M422.9 355.7m-1.4 0a1.4 1.4 0 1 0 2.8 0a1.4 1.4 0 1 0 -2.8 0M426.5 359.0m-1.4 0a1.4 1.4 0 1 0 2.8 0a1.4 1.4 0 1 0 -2.8 0M430.2 362.3m-1.4 0a1.4 1.4 0 1 0 2.8 0a1.4 1.4 0 1 0 -2.8 0M433.8 365.5m-1.4 0a1.4 1.4 0 1 0 2.8 0a1.4 1.4 0 1 0 -2.8 0M437.5 368.8m-1.4 0a1.4 1.4 0 1 0 2.8 0a1.4 1.4 0 1 0 -2.8 0M423.9 350.9m-1.4 0a1.4 1.4 0 1 0 2.8 0a1.4 1.4 0 1 0 -2.8 0M427.6 354.2m-1.4 0a1.4 1.4 0 1 0 2.8 0a1.4 1.4 0 1 0 -2.8 0M431.2 357.5m-1.4 0a1.4 1.4 0 1 0 2.8 0a1.4 1.4 0 1 0 -2.8 0M434.8 360.7m-1.4 0a1.4 1.4 0 1 0 2.8 0a1.4 1.4 0 1 0 -2.8 0M438.5 364.0m-1.4 0a1.4 1.4 0 1 0 2.8 0a1.4 1.4 0 1 0 -2.8 0M424.9 346.1m-1.4 0a1.4 1.4 0 1 0 2.8 0a1.4 1.4 0 1 0 -2.8 0M428.6 349.4m-1.4 0a1.4 1.4 0 1 0 2.8 0a1.4 1.4 0 1 0 -2.8 0M432.2 352.7m-1.4 0a1.4 1.4 0 1 0 2.8 0a1.4 1.4 0 1 0 -2.8 0M435.9 356.0m-1.4 0a1.4 1.4 0 1 0 2.8 0a1.4 1.4 0 1 0 -2.8 0M439.5 359.2m-1.4 0a1.4 1.4 0 1 0 2.8 0a1.4 1.4 0 1 0 -2.8 0M429.6 344.6m-1.4 0a1.4 1.4 0 1 0 2.8 0a1.4 1.4 0 1 0 -2.8 0M433.2 347.9m-1.4 0a1.4 1.4 0 1 0 2.8 0a1.4 1.4 0 1 0 -2.8 0M436.9 351.2m-1.4 0a1.4 1.4 0 1 0 2.8 0a1.4 1.4 0 1 0 -2.8 0M440.5 354.4m-1.4 0a1.4 1.4 0 1 0 2.8 0a1.4 1.4 0 1 0 -2.8 0M444.2 357.7m-1.4 0a1.4 1.4 0 1 0 2.8 0a1.4 1.4 0 1 0 -2.8 0M434.3 343.1m-1.4 0a1.4 1.4 0 1 0 2.8 0a1.4 1.4 0 1 0 -2.8 0M437.9 346.4m-1.4 0a1.4 1.4 0 1 0 2.8 0a1.4 1.4 0 1 0 -2.8 0M441.5 349.6m-1.4 0a1.4 1.4 0 1 0 2.8 0a1.4 1.4 0 1 0 -2.8 0M445.2 352.9m-1.4 0a1.4 1.4 0 1 0 2.8 0a1.4 1.4 0 1 0 -2.8 0M438.9 341.6m-1.4 0a1.4 1.4 0 1 0 2.8 0a1.4 1.4 0 1 0 -2.8 0M442.6 344.9m-1.4 0a1.4 1.4 0 1 0 2.8 0a1.4 1.4 0 1 0 -2.8 0M446.2 348.1m-1.4 0a1.4 1.4 0 1 0 2.8 0a1.4 1.4 0 1 0 -2.8 0M449.8 351.4m-1.4 0a1.4 1.4 0 1 0 2.8 0a1.4 1.4 0 1 0 -2.8 0M447.2 343.3m-1.4 0a1.4 1.4 0 1 0 2.8 0a1.4 1.4 0 1 0 -2.8 0M450.9 346.6m-1.4 0a1.4 1.4 0 1 0 2.8 0a1.4 1.4 0 1 0 -2.8 0M451.9 341.8m-1.4 0a1.4 1.4 0 1 0 2.8 0a1.4 1.4 0 1 0 -2.8 0M454.6 341.7m-1.4 0a1.4 1.4 0 1 0 2.8 0a1.4 1.4 0 1 0 -2.8 0M460.1 339.5m-1.4 0a1.4 1.4 0 1 0 2.8 0a1.4 1.4 0 1 0 -2.8 0M464.6 338.1m-1.4 0a1.4 1.4 0 1 0 2.8 0a1.4 1.4 0 1 0 -2.8 0M470.0 336.3m-1.4 0a1.4 1.4 0 1 0 2.8 0a1.4 1.4 0 1 0 -2.8 0M475.4 334.5m-1.4 0a1.4 1.4 0 1 0 2.8 0a1.4 1.4 0 1 0 -2.8 0M480.8 332.3m-1.4 0a1.4 1.4 0 1 0 2.8 0a1.4 1.4 0 1 0 -2.8 0" fill="#555" stroke="#000" stroke-width="1"/>
<path d="M457.0 415.3m-1.4 0a1.4 1.4 0 1 0 2.8 0a1.4 1.4 0 1 0 -2.8 0M456.3 411.7m-1.4 0a1.4 1.4 0 1 0 2.8 0a1.4 1.4 0 1 0 -2.8 0M459.8 412.9m-1.4 0a1.4 1.4 0 1 0 2.8 0a1.4 1.4 0 1 0 -2.8 0M463.3 414.2m-1.4 0a1.4 1.4 0 1 0 2.8 0a1.4 1.4 0 1 0 -2.8 0M459.1 409.3m-1.4 0a1.4 1.4 0 1 0 2.8 0a1.4 1.4 0 1 0 -2.8 0M462.6 410.5m-1.4 0a1.4 1.4 0 1 0 2.8 0a1.4 1.4 0 1 0 -2.8 0M466.1 411.8m-1.4 0a1.4 1.4 0 1 0 2.8 0a1.4 1.4 0 1 0 -2.8 0M462.0 406.9m-1.4 0a1.4 1.4 0 1 0 2.8 0a1.4 1.4 0 1 0 -2.8 0M465.5 408.2m-1.4 0a1.4 1.4 0 1 0 2.8 0a1.4 1.4 0 1 0 -2.8 0M468.9 409.4m-1.4 0a1.4 1.4 0 1 0 2.8 0a1.4 1.4 0 1 0 -2.8 0M464.8 404.5m-1.4 0a1.4 1.4 0 1 0 2.8 0a1.4 1.4 0 1 0 -2.8 0M468.3 405.8m-1.4 0a1.4 1.4 0 1 0 2.8 0a1.4 1.4 0 1 0 -2.8 0M471.8 407.0m-1.4 0a1.4 1.4 0 1 0 2.8 0a1.4 1.4 0 1 0 -2.8 0M464.2 400.9m-1.4 0a1.4 1.4 0 1 0 2.8 0a1.4 1.4 0 1 0 -2.8 0M467.6 402.1m-1.4 0a1.4 1.4 0 1 0 2.8 0a1.4 1.4 0 1 0 -2.8 0M471.1 403.4m-1.4 0a1.4 1.4 0 1 0 2.8 0a1.4 1.4 0 1 0 -2.8 0M474.6 404.7m-1.4 0a1.4 1.4 0 1 0 2.8 0a1.4 1.4 0 1 0 -2.8 0M467.0 398.5m-1.4 0a1.4 1.4 0 1 0 2.8 0a1.4 1.4 0 1 0 -2.8 0M470.5 399.8m-1.4 0a1.4 1.4 0 1 0 2.8 0a1.4 1.4 0 1 0 -2.8 0M474.0 401.0m-1.4 0a1.4 1.4 0 1 0 2.8 0a1.4 1.4 0 1 0 -2.8 0M477.4 402.3m-1.4 0a1.4 1.4 0 1 0 2.8 0a1.4 1.4 0 1 0 -2.8 0M469.8 396.1m-1.4 0a1.4 1.4 0 1 0 2.8 0a1.4 1.4 0 1 0 -2.8 0M473.3 397.4m-1.4 0a1.4 1.4 0 1 0 2.8 0a1.4 1.4 0 1 0 -2.8 0M476.8 398.6m-1.4 0a1.4 1.4 0 1 0 2.8 0a1.4 1.4 0 1 0 -2.8 0M480.3 399.9m-1.4 0a1.4 1.4 0 1 0 2.8 0a1.4 1.4 0 1 0 -2.8 0M483.7 401.2m-1.4 0a1.4 1.4 0 1 0 2.8 0a1.4 1.4 0 1 0 -2.8 0M472.7 393.7m-1.4 0a1.4 1.4 0 1 0 2.8 0a1.4 1.4 0 1 0 -2.8 0M476.1 395.0m-1.4 0a1.4 1.4 0 1 0 2.8 0a1.4 1.4 0 1 0 -2.8 0M479.6 396.3m-1.4 0a1.4 1.4 0 1 0 2.8 0a1.4 1.4 0 1 0 -2.8 0M483.1 397.5m-1.4 0a1.4 1.4 0 1 0 2.8 0a1.4 1.4 0 1 0 -2.8 0M486.6 398.8m-1.4 0a1.4 1.4 0 1 0 2.8 0a1.4 1.4 0 1 0 -2.8 0M475.5 391.4m-1.4 0a1.4 1.4 0 1 0 2.8 0a1.4 1.4 0 1 0 -2.8 0M479.0 392.6m-1.4 0a1.4 1.4 0 1 0 2.8 0a1.4 1.4 0 1 0 -2.8 0M482.5 393.9m-1.4 0a1.4 1.4 0 1 0 2.8 0a1.4 1.4 0 1 0 -2.8 0M485.9 395.2m-1.4 0a1.4 1.4 0 1 0 2.8 0a1.4 1.4 0 1 0 -2.8 0M474.9 387.7m-1.4 0a1.4 1.4 0 1 0 2.8 0a1.4 1.4 0 1 0 -2.8 0M478.3 389.0m-1.4 0a1.4 1.4 0 1 0 2.8 0a1.4 1.4 0 1 0 -2.8 0M481.8 390.2m-1.4 0a1.4 1.4 0 1 0 2.8 0a1.4 1.4 0 1 0 -2.8 0M485.3 391.5m-1.4 0a1.4 1.4 0 1 0 2.8 0a1.4 1.4 0 1 0 -2.8 0M488.8 392.8m-1.4 0a1.4 1.4 0 1 0 2.8 0a1.4 1.4 0 1 0 -2.8 0M477.7 385.3m-1.4 0a1.4 1.4 0 1 0 2.8 0a1.4 1.4 0 1 0 -2.8 0M481.2 386.6m-1.4 0a1.4 1.4 0 1 0 2.8 0a1.4 1.4 0 1 0 -2.8 0M484.7 387.9m-1.4 0a1.4 1.4 0 1 0 2.8 0a1.4 1.4 0 1 0 -2.8 0M488.1 389.1m-1.4 0a1.4 1.4 0 1 0 2.8 0a1.4 1.4 0 1 0 -2.8 0M491.6 390.4m-1.4 0a1.4 1.4 0 1 0 2.8 0a1.4 1.4 0 1 0 -2.8 0M480.5 383.0m-1.4 0a1.4 1.4 0 1 0 2.8 0a1.4 1.4 0 1 0 -2.8 0M484.0 384.2m-1.4 0a1.4 1.4 0 1 0 2.8 0a1.4 1.4 0 1 0 -2.8 0M487.5 385.5m-1.4 0a1.4 1.4 0 1 0 2.8 0a1.4 1.4 0 1 0 -2.8 0M491.0 386.8m-1.4 0a1.4 1.4 0 1 0 2.8 0a1.4 1.4 0 1 0 -2.8 0M483.4 380.6m-1.4 0a1.4 1.4 0 1 0 2.8 0a1.4 1.4 0 1 0 -2.8 0M486.8 381.8m-1.4 0a1.4 1.4 0 1 0 2.8 0a1.4 1.4 0 1 0 -2.8 0M490.3 383.1m-1.4 0a1.4 1.4 0 1 0 2.8 0a1.4 1.4 0 1 0 -2.8 0M493.8 384.4m-1.4 0a1.4 1.4 0 1 0 2.8 0a1.4 1.4 0 1 0 -2.8 0M486.2 378.2m-1.4 0a1.4 1.4 0 1 0 2.8 0a1.4 1.4 0 1 0 -2.8 0M489.7 379.5m-1.4 0a1.4 1.4 0 1 0 2.8 0a1.4 1.4 0 1 0 -2.8 0M493.2 380.7m-1.4 0a1.4 1.4 0 1 0 2.8 0a1.4 1.4 0 1 0 -2.8 0M489.0 375.8m-1.4 0a1.4 1.4 0 1 0 2.8 0a1.4 1.4 0 1 0 -2.8 0M492.5 377.1m-1.4 0a1.4 1.4 0 1 0 2.8 0a1.4 1.4 0 1 0 -2.8 0M496.0 378.4m-1.4 0a1.4 1.4 0 1 0 2.8 0a1.4 1.4 0 1 0 -2.8 0M491.9 373.4m-1.4 0a1.4 1.4 0 1 0 2.8 0a1.4 1.4 0 1 0 -2.8 0M495.3 374.7m-1.4 0a1.4 1.4 0 1 0 2.8 0a1.4 1.4 0 1 0 -2.8 0" fill="#222" stroke="#000" stroke-width="0.9"/>
<!-- stitch marks -->
<path d="M488.8 236.7l2.4 1.6M490.8 236.3l-1.8 2.2M497.6 233.8l2.2 -1.1M497.9 235.3l2 -1M506.5 234.0l2 1.4M508.2 234.0l-1.5 2M512.5 230.4l2.4 1.6M514.5 230.1l-1.8 2.2M513.9 237.6l2.2 -1.1M514.2 239.1l2 -1M506.5 242.8l2 1.4M508.2 242.8l-1.5 2M507.6 246.7l2.4 1.6M509.6 246.3l-1.8 2.2M512.6 250.1l2.2 -1.1M513.0 251.6l2 -1M504.0 259.0l2 1.4M505.7 259.0l-1.5 2M508.8 266.7l2.4 1.6M510.8 266.3l-1.8 2.2M445.1 268.9l2.2 -1.1M445.4 270.4l2 -1M446.5 275.2l2 1.4M448.2 275.2l-1.5 2M450.1 281.7l2.4 1.6M452.1 281.3l-1.8 2.2M440.1 290.1l2.2 -1.1M440.4 291.6l2 -1M440.2 296.5l2 1.4M441.9 296.5l-1.5 2M423.8 296.7l2.4 1.6M425.8 296.3l-1.8 2.2M425.1 305.1l2.2 -1.1M425.4 306.6l2 -1M421.5 314.0l2 1.4M423.2 314.0l-1.5 2M417.6 324.2l2.4 1.6M419.6 323.8l-1.8 2.2M410.1 330.1l2.2 -1.1M410.4 331.6l2 -1M417.8 331.5l2 1.4M419.4 331.5l-1.5 2M468.8 279.2l2.4 1.6M470.8 278.8l-1.8 2.2M636.8 175.0l2.2 -1.1M637.1 176.5l2 -1M639.9 176.8l2 1.4M641.6 176.8l-1.5 2M637.7 181.0l2.4 1.6M639.7 180.6l-1.8 2.2M640.8 183.9l2.2 -1.1M641.1 185.4l2 -1M632.0 183.8l2 1.4M633.7 183.8l-1.5 2M630.8 189.0l2.4 1.6M632.8 188.6l-1.8 2.2M635.8 188.9l2.2 -1.1M636.1 190.4l2 -1M640.9 188.8l2 1.4M642.6 188.8l-1.5 2M634.7 194.0l2.4 1.6M636.7 193.6l-1.8 2.2M631.9 198.8l2.2 -1.1M632.2 200.3l2 -1M602.1 198.7l2 1.4M603.8 198.7l-1.5 2M605.9 201.9l2.4 1.6M607.9 201.5l-1.8 2.2M604.0 213.8l2.2 -1.1M604.3 215.3l2 -1M625.0 202.7l2 1.4M626.7 202.7l-1.5 2M625.8 205.9l2.4 1.6M627.8 205.5l-1.8 2.2M629.9 213.8l2.2 -1.1M630.2 215.3l2 -1M631.0 215.6l2 1.4M632.7 215.6l-1.5 2M592.0 239.7l2.4 1.6M594.0 239.3l-1.8 2.2M596.1 237.6l2.2 -1.1M596.4 239.1l2 -1M601.1 234.5l2 1.4M602.8 234.5l-1.5 2M604.9 233.7l2.4 1.6M606.9 233.3l-1.8 2.2M608.0 230.7l2.2 -1.1M608.3 232.2l2 -1M570.3 247.5l2 1.4M572.0 247.5l-1.5 2M577.1 246.3l2.4 1.6M579.1 245.9l-1.8 2.2M559.3 254.5l2.2 -1.1M559.6 256.0l2 -1" fill="none" stroke="#000" stroke-width="1.1" stroke-linecap="round"/>
<!-- garnish 5/6 -->
<path class="w" d="M768.6 18.3L778.7 15.3L781.1 16.9C783.8 24.6 786.9 32.2 789.3 40C792.4 50.1 795.1 60.3 797.5 70.5C799.4 78.3 801 86.2 802.3 94.1C802.9 98.3 803 102.7 803.4 107C799.5 108.6 795.7 110.4 791.7 111.7C785.5 113.6 779.2 115 772.9 116.4C768.2 117.4 763.5 118.6 758.8 118.7C755.2 118.8 751.7 117.6 748.2 117.1C750.1 114.9 752.6 113.1 754.1 110.5C757 105.3 759.4 99.8 761.1 94.1C763.4 86.4 764.6 78.4 765.8 70.5C767 62.7 767.7 54.9 768.2 47C768.7 37.5 768.5 27.9 768.6 18.3Z"/>
<path class="t" d="M770.5 19.3C771.3 24.6 772.2 29.9 772.9 35.3C773.9 43.1 775.1 50.9 775.7 58.8C776.3 66.6 776.6 74.5 776.4 82.3C776.2 88.6 775.6 94.9 774.7 101.1C774 106.3 772.7 111.5 771.7 116.6"/>
<path class="k" d="M768.9 40C768.3 50.2 768.4 60.4 767.2 70.5C766.3 78.5 764.9 86.4 762.8 94.1C761.4 99 759.2 103.6 756.9 108.2C755.4 111.1 753.1 113.5 751.2 116.2"/>
<!-- clip 16 -->
<path class="b" d="M734.1 63L738.8 60L744.2 60.2L745.1 67.7L741.1 69.6L735.2 66.3Z"/>
<ellipse cx="747.9" cy="67.3" rx="4.6" ry="6.4" transform="rotate(-12 747.9 67.3)" class="w" style="stroke-width:1.6"/>
<ellipse cx="748.3" cy="67.6" rx="1.8" ry="3" transform="rotate(-12 748.3 67.6)" class="t"/>
<!-- clip 14 -->
<path class="b" d="M741.5 159.1L744.1 157C746.6 157.1 749.2 157.2 751.7 157.4C753.9 157.5 756.3 157.3 758.4 158C760.1 158.6 761.2 160.1 762.5 161.2L762.5 172.5C760.4 172.6 758.2 173.1 756 172.8C753.9 172.5 751.8 171.5 749.7 170.8L746.3 167.1L742.2 161.5L741.5 159.1Z"/>
<path class="t" d="M746.3 160.6L755 163.3M751.7 163.3L760.9 166M751.2 167.1L759.3 169.5M753.3 160.1L760.4 161.7" style="stroke:#fff;stroke-width:1.2"/>
<ellipse cx="766.3" cy="168.9" rx="4.9" ry="8.9" transform="rotate(-8 766.3 168.9)" class="w" style="stroke-width:2"/>
<path class="w" d="M766.3 165C767.5 163.3 770.3 164.1 772.3 164.4C774.6 164.8 776.7 166 778.8 167.1C779.8 167.7 780.9 168.3 781.5 169.3C782.1 170.2 782.5 171.4 782.3 172.5C782.1 173.9 781.5 175.4 780.5 176.3C779.5 177.2 777.9 177.7 776.7 177.4C774.7 177.1 773 175.6 771.2 174.7C769.8 174 767.6 174 766.9 172.5C765.8 170.3 764.9 167.1 766.3 165Z" style="stroke-width:1.7"/>
<path class="b" d="M765.8 165.5C766.9 163.8 770 164.2 771.8 165.2C773.2 166 773.4 168.2 773.4 169.8C773.4 171.4 773.2 173.6 771.8 174.2C770.2 174.8 767.9 174 766.9 172.5C765.5 170.6 764.5 167.5 765.8 165.5Z"/>
<ellipse cx="777" cy="172.5" rx="2.2" ry="4.2" transform="rotate(15 777 172.5)" class="t"/>
<!-- clip 17 right -->
<path class="w" d="M771.5 237.1L776.9 226.3L787.7 226.8L791.5 233.3L790.5 238.2L785.6 250.1L782.3 253.4Z" style="stroke-width:1.6"/>
<path class="b" d="M775.8 228.4L778 226.3L787.7 227.1L787.7 232.8L781.2 237.1L775.8 235Z"/>
<path class="t" d="M779.1 227.9L778 233.3M783.4 227.4L782.5 234.4M786.1 235L783.4 244.7M788.8 235.5L785.6 245.8" style="stroke:#fff;stroke-width:1.1"/>
<path class="t" d="M787.7 236L784.5 245.8M790.5 234.4L789.4 238.4"/>
<path class="w" d="M767.7 239.8C767.8 238.8 768.8 237.7 769.8 237.7C772.6 237.7 775.5 238.5 778 239.8C779.5 240.6 780.7 242.1 781.2 243.6C782.2 246.4 782.4 249.4 782.3 252.3C782.3 253.5 781.9 255.2 780.7 255.6C778.1 256.3 775.2 255.7 772.5 255C770.9 254.6 768.7 253.9 768.2 252.3C766.9 248.3 767.2 244 767.7 239.8Z" style="stroke-width:1.9"/>
<circle cx="774.7" cy="248.2" r="2.3" class="t"/>
<!-- clip 17 left -->
<path class="w" d="M228.3 235.9L230.9 233.7L234.5 233L234.5 230.9C235.2 230.6 235.9 230.1 236.6 230.1C239.1 230.3 241.4 231.5 243.9 231.6C247.3 231.7 250.7 231.4 254 230.9C254.9 230.7 255.5 229.9 256.2 229.4C257.6 229.9 259.5 229.7 260.5 230.9C261.8 232.4 262.2 234.6 262.3 236.6C262.5 239.5 262.3 242.5 261.6 245.3C261 247.9 260.1 250.6 258.4 252.6C256.9 254.2 254.5 254.7 252.6 255.8C251.4 255.3 250 255 248.9 254.2C248.2 253.6 248 252.6 247.5 251.8L235.2 248.2L234.1 245.3L229.4 243.5L228.3 235.9Z" style="stroke-width:2.1"/>
<path class="l" d="M234.5 233C234.8 235.9 235.6 238.8 235.6 241.7C235.5 243 234.6 244.1 234.1 245.3"/>
<path class="t" d="M230.9 234.5L231.6 243.3"/>
<path class="b" d="M234.5 230.9L241 232.3L240.4 236.8L235.6 236.8Z"/>
<path class="l" d="M254 231.4C253.3 233.7 252.4 235.8 251.8 238.1C251.3 240.2 251 242.4 250.8 244.6C250.5 247 250.5 249.4 250.4 251.8"/>
<path class="l" d="M241 233.7L248.9 233L250.4 236.6L241.7 236.3Z"/>
<path class="l" d="M238.1 239.9L250.4 241.3L250.8 243.9L238.7 242.1Z"/>
<path class="l" d="M239.4 244.2L250.4 245.9L250 248.1L239 245.9Z"/>
<path class="k" d="M236.6 237.7L251.1 239M235.6 242.4L238.1 243.2M235.2 248.2L239 245.9"/>
<ellipse cx="256.5" cy="243.5" rx="1.4" ry="2.9" transform="rotate(8 256.5 243.5)" class="l"/>
<!-- clip 15 -->
<path class="b" d="M318.5 286.3C319 284.9 320.3 283.7 321.7 283.4C323.7 282.9 326.4 282.8 327.8 284.3C329.7 286.5 330.7 290 329.9 292.8C329.4 294.4 326.6 294.2 325 293.6C322.8 292.8 321.2 290.9 319.6 289.2C318.9 288.4 318.1 287.3 318.5 286.3Z"/>
<path class="t" d="M321.7 285.5L326.6 289.5" style="stroke:#fff;stroke-width:1"/>
<ellipse cx="333.3" cy="292.8" rx="5" ry="8.2" transform="rotate(-8 333.3 292.8)" class="w" style="stroke-width:1.9"/>
<ellipse cx="341.8" cy="295.3" rx="5.4" ry="5.3" class="w" style="stroke-width:1.7"/>
<path class="w" d="M336.9 290.8C337.7 289.3 341.3 288.8 342.1 290.4C343.6 293.1 343.3 296.9 341.8 299.6C341 301 338 300.6 337.2 299.3C335.8 296.8 335.5 293.3 336.9 290.8Z" style="stroke-width:1.5"/>
<ellipse cx="337.6" cy="294.6" rx="1.7" ry="3.8" class="b"/>
<!-- cover 8/10 -->
<path class="w" d="M654.9 403.4C655.4 402.9 655.8 402.1 656.5 401.8C679.5 390.6 702.8 379.9 725.9 368.9L728.1 368.9C735.3 371.9 742.7 374.6 749.8 377.9C751.5 378.7 753.1 379.7 754.2 381.2C754.8 382 754.9 383.3 754.7 384.4C754.5 385.4 753.6 386.2 753.1 387.1C747.6 388.9 742.2 390.7 736.8 392.5C729.5 395 722.4 397.8 715.1 400.1C707.9 402.5 700.8 405 693.4 406.7C688.1 407.9 682.6 408.5 677.1 408.8C672.4 409.1 667.7 408.9 663 408.3C660.4 408 657.7 407.5 655.4 406.1C654.6 405.6 655.1 404.3 654.9 403.4Z" style="stroke-width:1.6"/>
<path class="t" d="M656.5 403.4C659 404.3 661.5 405.7 664.1 406.1C668.4 406.8 672.8 407.1 677.1 406.9C682.6 406.6 688.1 405.9 693.4 404.7C700.8 403 707.9 400.3 715.1 398C722.4 395.6 729.6 393 736.8 390.6C741.9 388.9 747.1 387.6 752 385.5C752.9 385.1 753.4 384 754.2 383.3"/>
<path class="l" d="M691.8 391.5C691.2 390.2 692.4 388.6 693.4 387.7C694.9 386.2 696.9 385.3 698.8 384.4C701.6 383.1 704.4 381.5 707.5 381.2C710.1 380.9 712.6 382 715.1 382.8C717.7 383.6 720.3 384.6 722.7 386C723.5 386.5 724.5 387.5 724.3 388.4C724.1 389.9 722.8 391.1 721.6 392C719.7 393.5 717.4 394.5 715.1 395.3C712.3 396.2 709.4 396.9 706.4 396.9C703.1 396.9 699.7 396.4 696.7 395.3C694.7 394.5 692.6 393.4 691.8 391.5Z"/>
<path class="t" d="M694.5 390.9C695.2 389.8 695.6 388.4 696.7 387.7C699.7 385.6 703 384.1 706.4 382.8C707.8 382.3 709.3 382.4 710.8 382.2M702.1 394.2C702.8 392.9 703 391.2 704.2 390.4C706.5 388.9 709.3 388.5 711.8 387.7C713.6 387.1 715.4 386.1 717.3 386C719.1 385.9 720.9 386.8 722.7 387.1M705.3 392L715.1 389.3M706.4 396.9C709.3 396.3 712.3 396.2 715.1 395.3C717.4 394.5 719.4 393.1 721.6 392"/>
<path class="l" d="M663.6 408.3C663.7 410.5 663.4 412.7 664.1 414.8C664.4 415.6 665.5 416 666.3 415.9C667 415.8 667.7 415 667.9 414.2C668.3 412.9 667.9 411.4 667.9 409.9M669 410.1C669.1 412.2 668.5 414.5 669.3 416.4C669.6 417.1 671.2 417 671.7 416.4C672.6 415.3 672.7 413.6 672.8 412.1C672.9 411.2 672.4 410.3 672.2 409.4M710.8 403.9C711.1 405.9 710.8 408.2 711.8 409.9C712.3 410.7 713.9 410.5 714.6 409.9C715.3 409.1 714.2 407.3 715.1 406.7C715.9 406.1 717.2 408.5 717.8 407.7C719 406.4 718.5 404.1 718.9 402.3M724.9 399.6C725.2 400.9 725 402.5 725.9 403.4C726.7 404.2 728.5 404.8 729.2 403.9C730.3 402.5 729.6 400.3 729.7 398.5"/>
<path class="b" d="M696.1 408.3L696.4 412.3L699.7 412.7L702.5 410.8L702.6 406.9Z"/>
<path class="b" d="M736.8 394.9L737.1 399.3L740.1 400.1L742.9 397.8L742.9 392.8Z"/>
<path class="t" d="M738.4 395.8L738.7 398.8M740.9 394.9L741.1 398.2" style="stroke:#fff;stroke-width:0.9"/>
<path class="t" d="M719.4 401.2C720.2 402 720.6 403.3 721.6 403.4C722.8 403.5 723.8 402.3 724.9 401.8"/>
<!-- latch 1/2 -->
<path class="w" d="M666.6 457.4C667.1 456.8 667.3 455.9 668 455.5C673.6 452.4 679.6 449.9 685.4 447.1L687.3 445.5L688.7 447.1L689.2 450.8L692.9 449.4C695.4 448.3 697.8 446.9 700.5 446.1C703.2 445.3 706.1 444.6 708.9 444.7C711.5 444.8 714 445.7 716.4 446.6C719.1 447.6 721.7 448.8 724 450.3C725.8 451.6 727.3 453.3 728.7 455.1C729.3 455.9 729.6 456.9 730.1 457.9C729.3 458.7 728.5 459.4 727.7 460.2C726.8 461.3 725.9 462.4 724.9 463.5L724.4 467.8L725.9 469.2L731.5 467.3C734 467.4 736.6 467 739 467.8C740.6 468.3 742.4 469.4 742.8 471C743.1 472.4 742.1 474 740.9 474.8C738.7 476.3 735.9 476.7 733.4 477.6L729.6 481.4C728 482.3 726.6 483.6 724.9 484.2C722.2 485.2 719.3 485.8 716.4 486.1C713.9 486.3 711.3 486.4 708.9 485.6C707.3 485.1 706.4 483.4 705.2 482.3L707 478.6L698.6 477.6L692.9 480L690.1 481.6L669.4 473.4L667.1 472L666.6 457.4Z" style="stroke-width:2.2"/>
<path class="l" d="M670.3 460.2L687.3 452.2L691 454.1L697.6 458.8"/>
<path class="l" d="M670.3 460.2L670.8 471.5"/>
<path class="t" d="M673.4 460.5L673.7 472.5L690.1 479.5"/>
<path class="l" d="M676 460.2L691 466.3L697.6 467.3L698.6 477.6"/>
<path class="l" d="M691 460.2L696.2 460.2L696.2 464.9L691.5 464.6Z"/>
<ellipse cx="685.2" cy="470.2" rx="6" ry="3.7" transform="rotate(-8 685.2 470.2)" class="b"/>
<ellipse cx="682.5" cy="470.2" rx="2" ry="1.3" fill="#fff"/>
<path class="b" d="M688.2 477.2L692.5 475.7L692.9 480L690.1 481.6Z"/>
<path class="b" d="M692.9 449.4L700.5 446.1L704.2 447.5L700.5 453.2L702.3 457.9L697.6 458.8L694.8 455.1Z"/>
<path class="w" d="M700.5 451.3L707 450.3L708.9 452.7L703.3 453.6Z" style="stroke-width:0.8"/>
<path class="l" d="M704.2 447.7L708.9 452.7L704.2 458.8L708.9 465.4L710.8 468.2"/>
<path class="l" d="M697.6 458.8L704.2 458.8"/>
<path class="k" d="M710.8 464.6C711.6 462.9 711.7 460.6 713.2 459.3C715.1 457.5 717.7 456.4 720.2 455.8C722.8 455.2 725.5 455.6 728.2 455.5" style="stroke-width:3.4"/>
<path class="l" d="M715.5 466.8C716.3 464.9 716.3 462.5 717.9 461.2C719.7 459.5 722.6 459.3 724.9 458.3"/>
<path class="l" d="M697.6 467.3C701.4 467.6 705.1 468.2 708.9 468.2C711.4 468.2 713.9 467.6 716.4 467.3"/>
<path class="l" d="M707 478.6C707.4 478.1 707.5 477.4 708 477.2C709.4 476.4 711.1 476.1 712.7 475.7C715.2 475.3 717.9 475.9 720.2 474.8C722.6 473.6 724 471 725.9 469.2"/>
<path class="b" d="M732.4 467.8C734.6 467.4 736.9 467.3 739 468C740.4 468.5 741.9 469.6 742.3 471C742.6 472.2 741.7 473.6 740.7 474.3C739.2 475.5 737.2 476.5 735.3 476.2C733.1 475.9 731.2 474.5 729.6 472.9C728.8 472.1 728.1 470.6 728.7 469.6C729.3 468.4 731.1 468 732.4 467.8Z"/>
<ellipse cx="736" cy="472.3" rx="1.6" ry="1" fill="#fff"/>
<ellipse cx="717" cy="481" rx="5.6" ry="2.6" transform="rotate(-12 717 481)" class="w" style="stroke-width:2.4"/>
<path class="k" d="M711.3 468.7C712.7 467.6 714.8 467.6 716.4 468C718 468.4 718.7 470.6 720.2 471C722 471.6 724.1 470.4 725.9 471C726.9 471.4 728.6 473.1 727.7 473.9C726 475.3 723.4 475.3 721.1 475C719.4 474.8 718.1 473 716.4 472.5C714.8 472 712.7 473 711.3 472C710.4 471.3 710.4 469.4 711.3 468.7Z" style="stroke-width:2.4"/>
<!-- clip 13 -->
<path class="b" d="M665.1 428.2C665.9 426.9 667.6 426.2 669.1 426.1C670.7 426 672.4 426.5 673.5 427.6C674.3 428.4 673.7 429.8 674 430.9C674.6 432.6 676.2 434 676.2 435.8C676.2 436.8 674.3 436.9 674 437.9C673.6 439.7 675.2 441.8 674.3 443.4C673.4 444.8 671.4 445.5 669.7 445.4C668 445.3 666.2 444.2 665.3 442.8C664.4 441.5 665.4 439.5 664.8 437.9C664.4 436.8 662.4 436.4 662.4 435.2C662.5 434 664.6 433.7 665.1 432.5C665.6 431.1 664.3 429.4 665.1 428.2Z"/>
<path class="t" d="M669.7 429.5L671.3 430.3M665.6 434.7L666.7 434.2M671.3 433.9L672.7 435.8M669.4 436.8L671.3 439M666.7 440.1L667.5 441.7M671 440.7L670.8 442.3" style="stroke:#fff;stroke-width:1.3"/>
<!-- screw 18 -->
<ellipse cx="716.9" cy="508.3" rx="6.2" ry="3.2" class="b"/>
<ellipse cx="716.7" cy="507.6" rx="2.8" ry="1.1" style="fill:#fff"/>
<path class="w" d="M714.5 493.3L721 493.3L721 505.1L714.5 505.1Z" style="stroke:none"/>
<path class="k" d="M714.2 494.2L721.4 493.3M714.2 496.9L721.4 496M714.2 499.6L721.4 498.7M714.2 502.4L721.4 501.5M714.5 504.7L721 504.2M716.9 492.4L718.7 492.4" style="stroke-width:1.9"/>
<path class="t" d="M715.1 493.3L715.1 505.1M720.5 493.3L720.5 505.1"/>
<!-- screw 12 bottom -->
<ellipse cx="637" cy="500.2" rx="4.3" ry="6.6" transform="rotate(10 637 500.2)" class="w" style="stroke-width:1.7"/>
<path class="t" d="M635.8 497.6C636.4 498.4 637.5 499.1 637.5 500.1C637.5 501 636.4 501.7 635.8 502.5M637.5 500.1L639.4 499.6"/>
<path class="w" d="M618.3 497.9L621.2 494.4L632.6 496.8L633.4 503.3L624.5 502.5Z" style="stroke:none"/>
<path class="l" d="M618 498.4C618.8 497.3 619.5 494.2 620.4 495.2C622 496.7 621 499.5 621.2 501.7M622 494.4L624.5 502.5M625.8 495.2L628 503M629.3 496L631.3 503.3M618 498.4L624.5 502.5M620.4 495.2L632.9 497.3M621.2 501.7L632.9 503.3" style="stroke-width:1.5"/>
<!-- screw 12 right -->
<path class="b" d="M748.8 305.3L751.5 305.5L750.9 314.4L748.8 318.6L743.9 319.8L742.4 318.2L745.3 310.3Z"/>
<path class="t" d="M746 311.3L749.4 310M745 314.1L749.1 312.6M743.9 317L748.4 315.4" style="stroke:#fff;stroke-width:1.1"/>
<ellipse cx="742.5" cy="324.3" rx="7" ry="5.5" transform="rotate(-8 742.5 324.3)" class="w" style="stroke-width:2.2"/>
<path class="t" d="M738.4 323.4C739.5 323.8 740.6 324.2 741.7 324.6C743.2 325 744.7 325.4 746.2 325.8M741.3 320.9C741.7 322 742.1 323.1 742.5 324.2C742.8 325.1 743.2 326.1 743.6 327"/>
</svg>
</body></html>
